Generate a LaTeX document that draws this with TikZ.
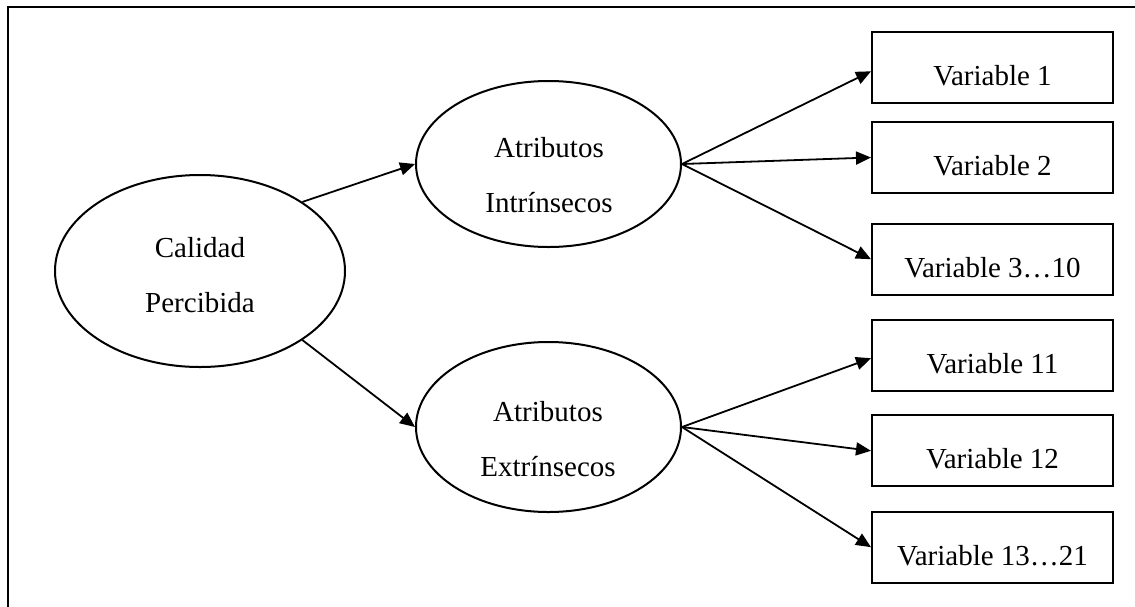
\documentclass[tikz,border=0pt]{standalone}
\usepackage{fontspec}
\setmainfont{Liberation Serif}
\usetikzlibrary{arrows.meta,shapes.geometric}
\begin{document}
\begin{tikzpicture}[x=1pt,y=-1pt,
 ell/.style={draw, ellipse, line width=2pt, inner sep=0pt},
 lbl/.style={font=\fontsize{29}{35}\selectfont, inner sep=0pt, anchor=base},
 varbox/.style={draw, rectangle, line width=2pt, minimum width=241pt, inner xsep=0pt, inner ysep=0pt, text height=53.5pt, text depth=17.5pt, font=\fontsize{29}{35}\selectfont},
 arr/.style={-{Triangle[length=15pt,width=13pt]}, line width=1.8pt}
]
\useasboundingbox (0,0) rectangle (1135,606);
\draw[line width=2pt] (8,612) -- (8,7) -- (1142,7);

\node[ell, minimum width=290pt, minimum height=192pt] (cp) at (200,271) {};
\node[lbl] (cp1) at (200,257) {Calidad};
\node[lbl] (cp2) at (200,312) {Percibida};

\node[ell, minimum width=265pt, minimum height=166pt] (ai) at (548.5,164) {};
\node[lbl] (ai1) at (549,157) {Atributos};
\node[lbl] (ai2) at (549,212) {Intrínsecos};

\node[ell, minimum width=265pt, minimum height=170pt] (ae) at (548.5,427) {};
\node[lbl] (ae1) at (548,421) {Atributos};
\node[lbl] (ae2) at (548,476) {Extrínsecos};

\node[varbox] (v1) at (992.5,67.3) {Variable 1};
\node[varbox] (v2) at (992.5,157.5) {Variable 2};
\node[varbox] (v3) at (992.5,259.2) {Variable 3…10};
\node[varbox] (v4) at (992.5,355.2) {Variable 11};
\node[varbox] (v5) at (992.5,450.8) {Variable 12};
\node[varbox] (v6) at (992.5,547.2) {Variable 13…21};

\draw[arr] (cp.34) -- (ai.west);
\draw[arr] (cp.-34) -- (ae.west);
\draw[arr] (ai.east) -- ([yshift=-4pt]v1.west);
\draw[arr] (ai.east) -- (v2.west);
\draw[arr] (ai.east) -- (v3.west);
\draw[arr] (ae.east) -- ([yshift=-3pt]v4.west);
\draw[arr] (ae.east) -- (v5.west);
\draw[arr] (ae.east) -- (v6.west);
\end{tikzpicture}
\end{document}
